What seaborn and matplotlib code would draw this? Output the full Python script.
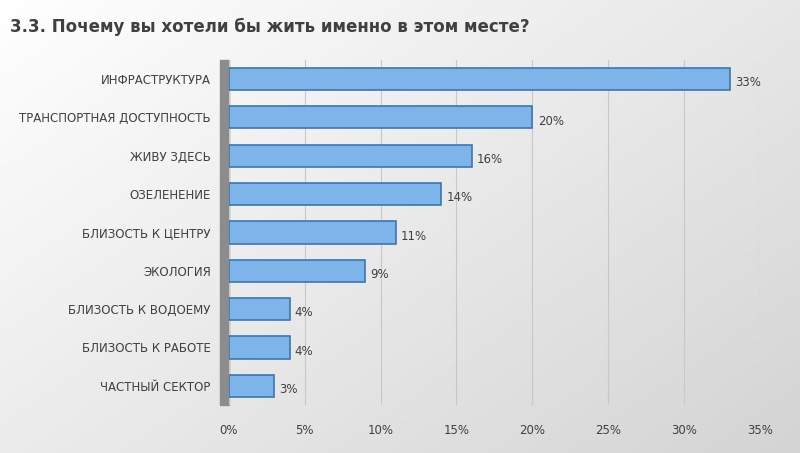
import matplotlib
matplotlib.use("Agg")
import matplotlib.pyplot as plt
import numpy as np
import pandas as pd
import seaborn as sns

categories = [
    "ИНФРАСТРУКТУРА",
    "ТРАНСПОРТНАЯ ДОСТУПНОСТЬ",
    "ЖИВУ ЗДЕСЬ",
    "ОЗЕЛЕНЕНИЕ",
    "БЛИЗОСТЬ К ЦЕНТРУ",
    "ЭКОЛОГИЯ",
    "БЛИЗОСТЬ К ВОДОЕМУ",
    "БЛИЗОСТЬ К РАБОТЕ",
    "ЧАСТНЫЙ СЕКТОР",
]
shares = [33, 20, 16, 14, 11, 9, 4, 4, 3]
x_ticks = [0, 5, 10, 15, 20, 25, 30, 35]

sns.set_theme(style="white")
plt.rcParams["font.family"] = ["DejaVu Sans"]
text_color = "#404040"

df = pd.DataFrame({"category": categories, "share": shares})

fig = plt.figure(figsize=(8, 4.53), dpi=100)

# gradient background (light top-left to gray bottom-right)
bg = fig.add_axes([0, 0, 1, 1], zorder=-2)
yy, xx = np.mgrid[0:1:200j, 0:1:200j]
grad = 0.55 * xx + 0.45 * yy
bg.imshow(grad, cmap=matplotlib.colors.LinearSegmentedColormap.from_list(
    "bg", ["#ffffff", "#d4d4d4"]), aspect="auto", extent=[0, 1, 0, 1], origin="upper")
bg.axis("off")

ax = fig.add_axes([0.286, 0.106, 0.664, 0.762])
ax.patch.set_alpha(0)
sns.barplot(data=df, x="share", y="category", ax=ax, color="#7db5ea",
            edgecolor="#3a76b0", linewidth=1.2, width=0.58, saturation=1)

ax.set_xlim(0, 35)
ax.set_xticks(x_ticks)
ax.set_xticklabels([f"{t}%" for t in x_ticks], fontsize=8.5, color=text_color)
ax.tick_params(axis="y", labelsize=8.5, labelcolor=text_color, length=0, pad=13)
ax.tick_params(axis="x", length=0, pad=14)
ax.set_xlabel("")
ax.set_ylabel("")
ax.xaxis.grid(True, color="#c8c8c8", linewidth=0.8)
ax.set_axisbelow(True)
for s in ax.spines.values():
    s.set_visible(False)

# gray side wall
ax.axvspan(-0.55, 0, color="#8c8c8c", clip_on=False, zorder=0)

for i, v in enumerate(shares):
    ax.text(v + 0.35, i + 0.1, f"{v}%", va="center", ha="left",
            fontsize=8.5, color=text_color)

fig.text(0.012, 0.93, "3.3. Почему вы хотели бы жить именно в этом месте?",
         fontsize=12, fontweight="bold", color=text_color)

fig.savefig("out.png", dpi=100)
